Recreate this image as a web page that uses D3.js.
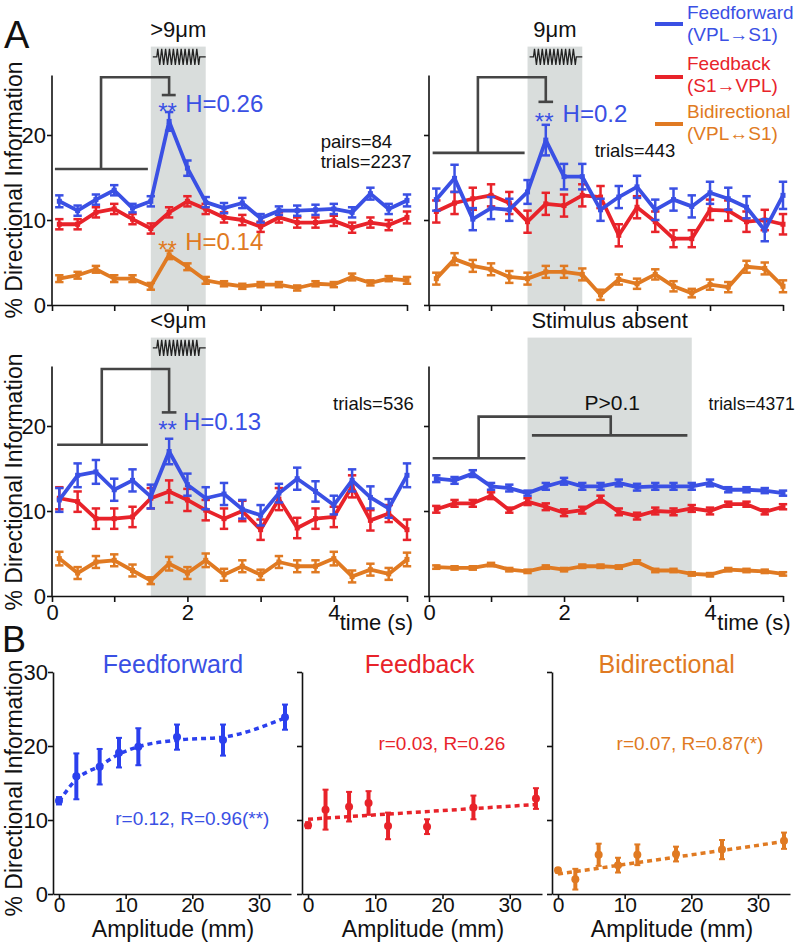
<!DOCTYPE html>
<html><head><meta charset="utf-8">
<script src="https://cdn.jsdelivr.net/npm/d3@7"></script>
<style>
body{margin:0;background:#fff}
svg{display:block}
text{font-family:"Liberation Sans",Arial,Helvetica,sans-serif}
</style>
</head><body>
<svg id="c" width="796" height="942"></svg>
<script>
// ---------- DATA ----------
const times = [0.25,0.5,0.75,1,1.25,1.5,1.75,2,2.25,2.5,2.75,3,3.25,3.5,3.75,4,4.25,4.5,4.75,5];
const xTickVals = [0.15,1,2,3,4,5];
const yTickVals = [0,10,20];

// >9um panel
const ffBig = [12.2,11.1,12.4,13.5,11.4,12.2,21.6,16.1,12.1,11.4,12.0,10.2,11.1,11.1,11.2,11.3,10.9,13.1,11.3,12.3];
const ffBigErr = [0.7,0.6,0.6,0.6,0.5,0.6,1.1,0.9,0.6,0.6,0.6,0.5,0.5,0.6,0.6,0.6,0.6,0.7,0.6,0.7];
const fbBig = [9.5,9.5,10.9,11.3,10.1,9.0,10.9,12.2,11.3,10.3,10.0,9.2,10.3,9.7,9.7,9.9,9.1,9.7,9.4,10.3];
const fbBigErr = [0.6,0.6,0.6,0.6,0.6,0.6,0.6,0.6,0.6,0.6,0.6,0.6,0.6,0.6,0.6,0.6,0.6,0.6,0.6,0.7];
const biBig = [3.1,3.5,4.2,3.1,3.1,2.2,5.9,4.5,2.9,2.5,2.2,2.4,2.4,2.0,2.5,2.4,3.3,2.6,3.1,2.9];
const biBigErr = [0.4,0.4,0.4,0.4,0.4,0.4,0.5,0.4,0.4,0.3,0.3,0.3,0.3,0.3,0.3,0.3,0.4,0.3,0.3,0.4];

// 9um panel
const ffMid = [12.4,14.9,10.1,11.4,11.2,13.3,19.4,15.1,15.1,11.2,12.7,13.9,11.2,12.4,11.6,13.2,12.5,11.5,8.8,12.9];
const ffMidErr = [1.3,1.6,1.3,1.3,1.3,1.4,1.8,1.5,1.5,1.3,1.3,1.3,1.2,1.3,1.3,1.3,1.3,1.3,1.3,1.6];
const fbMid = [11.0,12.0,12.5,12.9,12.0,9.8,11.9,11.7,12.9,12.7,8.2,11.5,9.8,7.8,7.8,11.2,11.1,9.8,10.0,9.5];
const fbMidErr = [1.3,1.3,1.3,1.3,1.3,1.3,1.3,1.3,1.3,1.3,1.3,1.3,1.2,1.0,1.0,1.2,1.2,1.2,1.2,1.2];
const biMid = [3.1,5.4,4.6,4.2,3.3,3.1,3.9,3.9,3.6,1.2,3.0,2.5,3.6,2.2,1.4,2.4,2.1,4.5,4.3,2.2];
const biMidErr = [0.7,0.7,0.7,0.7,0.7,0.7,0.7,0.7,0.7,0.6,0.6,0.6,0.6,0.6,0.5,0.6,0.6,0.7,0.7,0.7];

// <9um panel
const ffSmall = [11.3,14.2,14.6,12.5,13.6,11.7,17.0,13.1,11.5,12.0,10.2,9.5,12.1,13.8,12.3,10.7,13.6,11.6,10.3,14.2];
const ffSmallErr = [1.4,1.4,1.4,1.3,1.3,1.4,1.5,1.3,1.3,1.3,1.1,1.2,1.1,1.3,1.2,1.1,1.3,1.3,1.1,1.4];
const fbSmall = [11.5,11.1,9.1,9.1,9.3,11.5,12.3,11.3,10.1,9.1,10.0,7.8,11.4,8.0,9.1,9.3,12.9,8.9,9.7,7.8];
const fbSmallErr = [1.3,1.2,1.2,1.2,1.2,1.2,1.3,1.3,1.2,1.2,1.2,1.2,1.3,1.2,1.2,1.2,1.3,1.2,1.0,1.2];
const biSmall = [4.4,2.7,4.0,4.2,3.0,1.8,3.8,2.7,4.2,2.5,3.5,2.5,4.0,3.5,3.5,4.4,2.3,3.1,2.6,4.3];
const biSmallErr = [0.8,0.7,0.7,0.7,0.7,0.4,0.8,0.7,0.8,0.7,0.7,0.6,0.7,0.7,0.7,0.8,0.7,0.7,0.7,0.8];

// Stimulus absent panel
const ffNone = [13.8,13.6,14.4,12.9,12.7,12.1,12.9,13.5,12.9,12.9,13.3,12.8,12.9,12.9,12.9,13.3,12.5,12.5,12.4,12.1];
const ffNoneErr = [0.4,0.4,0.4,0.4,0.4,0.3,0.4,0.4,0.4,0.4,0.4,0.4,0.4,0.4,0.4,0.4,0.3,0.3,0.3,0.3];
const fbNone = [10.2,10.9,10.9,11.8,10.1,11.1,10.5,9.8,10.1,11.4,9.9,9.4,10.0,9.9,10.3,10.0,10.8,10.8,9.9,10.5];
const fbNoneErr = [0.4,0.4,0.4,0.4,0.3,0.4,0.4,0.4,0.4,0.4,0.4,0.4,0.4,0.4,0.4,0.4,0.3,0.3,0.3,0.3];
const biNone = [3.4,3.3,3.3,3.7,3.1,2.9,3.4,3.1,3.5,3.5,3.4,4.0,3.0,3.0,2.6,2.5,3.1,3.0,2.9,2.6];
const biNoneErr = [0.2,0.2,0.2,0.2,0.2,0.2,0.2,0.2,0.2,0.2,0.2,0.2,0.2,0.2,0.2,0.2,0.2,0.2,0.2,0.2];

// Part B
const amps = [0,2.6,6.1,9.0,11.9,17.7,24.6,33.9];
const ampTicks = [0,10,20,30];
const bYTicks = [0,10,20,30];
const ffAmp = [12.6,15.9,17.2,19.1,19.9,21.2,20.8,23.9];
const ffAmpErr = [0.5,3.1,2.4,2.0,2.5,1.7,2.1,1.7];
const ffAmpFit = [12.5,15.5,17.3,18.9,19.9,20.8,21.2,23.8];
const fbAmp = [9.3,11.4,11.8,12.3,9.2,9.1,11.7,12.9];
const fbAmpErr = [0.4,2.7,2.0,1.6,1.8,1.0,1.6,1.4];
const fbFitX = [0,34];
const fbFitY = [10.1,12.1];
const biAmp = [3.2,2.0,5.3,3.9,5.3,5.4,6.0,7.2];
const biAmpErr = [0.3,1.4,1.5,1.0,1.4,1.0,1.3,1.1];
const biFitX = [0,34];
const biFitY = [2.7,7.1];

// ---------- STYLE ----------
const BLUE = "#3a50e4", RED = "#e8232a", ORANGE = "#e07a22", BBLUE = "#2b40ee";
const DARK = "#454545", SHADE = "#d9dddc";

const svg = d3.select("#c");

const panelsA = [
  {xr:[52,407], yr:[305,75.5], ff:ffBig, ffE:ffBigErr, fb:fbBig, fbE:fbBigErr, bi:biBig, biE:biBigErr,
   shade:[1.5,2.25], title:">9\u03bcm", zig:true, yl:true, xl:false,
   br:{l0:0.19,l1:1.46,lv:16.0,vx:0.82,top:26.8,tx:1.75,end:24.7,cap:[1.65,1.84]},
   hs:[{t:1.60,v:22.7,tH:1.97,txt:"H=0.26",c:BLUE},{t:1.60,v:6.5,tH:1.97,txt:"H=0.14",c:ORANGE}],
   notes:[{t:3.82,v:18.5,txt:"pairs=84"},{t:3.82,v:16.1,txt:"trials=2237"}]},
  {xr:[429,783], yr:[305,75.5], ff:ffMid, ffE:ffMidErr, fb:fbMid, fbE:fbMidErr, bi:biMid, biE:biMidErr,
   shade:[1.5,2.25], title:"9\u03bcm", zig:true, yl:false, xl:false,
   br:{l0:0.2,l1:1.46,lv:17.9,vx:0.82,top:26.8,tx:1.75,end:23.9,cap:[1.65,1.85]},
   hs:[{t:1.60,v:21.5,tH:1.98,txt:"H=0.2",c:BLUE}],
   notes:[{t:2.42,v:17.4,txt:"trials=443"}]},
  {xr:[52,407], yr:[596,366.5], ff:ffSmall, ffE:ffSmallErr, fb:fbSmall, fbE:fbSmallErr, bi:biSmall, biE:biSmallErr,
   shade:[1.5,2.25], title:"<9\u03bcm", zig:true, yl:true, xl:true,
   br:{l0:0.22,l1:1.46,lv:17.8,vx:0.83,top:26.7,tx:1.75,end:21.6,cap:[1.65,1.85]},
   hs:[{t:1.60,v:19.5,tH:1.94,txt:"H=0.13",c:BLUE}],
   notes:[{t:3.99,v:21.9,txt:"trials=536"}]},
  {xr:[429,783], yr:[596,366.5], ff:ffNone, ffE:ffNoneErr, fb:fbNone, fbE:fbNoneErr, bi:biNone, biE:biNoneErr,
   shade:[1.5,3.75], title:"Stimulus absent", zig:false, yl:false, xl:true,
   br2:{l0:0.2,l1:1.47,lv:16.2,vx:0.83,top:21.1,tx:2.64,end:18.9,r0:1.56,r1:3.69},
   hs:[], notes:[{t:3.98,v:21.9,txt:"trials=4371",fs:17.5},{t:2.66,v:21.9,txt:"P>0.1",anchor:"middle",fs:21}]}
];

function drawSeries(g, x, y, xs, vals, errs, color, lw, ew, cw, msize){
  const line = d3.line().x((d,i)=>x(xs[i])).y(d=>y(d));
  g.append("path").datum(vals).attr("d", line).attr("fill","none")
    .attr("stroke", color).attr("stroke-width", lw).attr("stroke-linejoin","round");
  const eb = g.append("g").attr("stroke", color).attr("stroke-width", ew);
  vals.forEach((v,i)=>{
    const px = x(xs[i]);
    eb.append("line").attr("x1",px).attr("x2",px).attr("y1",y(v-errs[i])).attr("y2",y(v+errs[i]));
    eb.append("line").attr("x1",px-cw).attr("x2",px+cw).attr("y1",y(v-errs[i])).attr("y2",y(v-errs[i]));
    eb.append("line").attr("x1",px-cw).attr("x2",px+cw).attr("y1",y(v+errs[i])).attr("y2",y(v+errs[i]));
  });
  if (msize) g.append("g").selectAll("rect").data(vals).join("rect")
    .attr("x",(d,i)=>x(xs[i])-msize/2).attr("y",d=>y(d)-msize/2)
    .attr("width",msize).attr("height",msize).attr("fill",color);
}

panelsA.forEach(p=>{
  const g = svg.append("g");
  const x = d3.scaleLinear().domain([0.15,5]).range(p.xr);
  const y = d3.scaleLinear().domain([0,27]).range(p.yr);
  // shading
  g.append("rect").attr("x", x(p.shade[0])).attr("width", x(p.shade[1])-x(p.shade[0]))
    .attr("y", y(30.4)).attr("height", y(0)-y(30.4)).attr("fill", SHADE);
  // title
  g.append("text").attr("x", (x(p.shade[0])+x(p.shade[1]))/2).attr("y", y(27)-39)
    .attr("text-anchor","middle").attr("font-size",22).attr("fill","#111").text(p.title);
  // zigzag stimulus
  if (p.zig){
    const xs = x(p.shade[0])+2, xe = x(p.shade[1]), yc = y(29.2), amp = 8, n = 11;
    const pts = [[xs,yc],[xs+4,yc]];
    const a = xs+4, b = xe-6, step = (b-a)/(2*n);
    for (let k=0;k<2*n;k++) pts.push([a+step*(k+0.5), k%2===0 ? yc-amp : yc+amp]);
    pts.push([b,yc],[xe,yc]);
    g.append("path").attr("d", d3.line()(pts)).attr("fill","none").attr("stroke","#222").attr("stroke-width",1.3);
  }
  // axes
  const ax = d3.axisLeft(y).tickValues(yTickVals).tickSize(5).tickSizeOuter(0).tickPadding(1)
    .tickFormat(p.yl ? d3.format("d") : ()=>"");
  const gy = g.append("g").attr("transform",`translate(${p.xr[0]},0)`).call(ax);
  const bx = d3.axisBottom(x).tickValues(xTickVals).tickSize(6).tickSizeOuter(0).tickPadding(2)
    .tickFormat(d=> p.xl ? (d===0.15?"0":(d===2||d===4?String(d):"")) : "");
  const gx = g.append("g").attr("transform",`translate(0,${p.yr[0]})`).call(bx);
  [gy,gx].forEach(a=>{
    a.selectAll("path,line").attr("stroke","#111").attr("stroke-width",1.6);
    a.selectAll("text").attr("font-size",22).attr("fill","#111").attr("font-family",'"Liberation Sans",Arial,sans-serif');
  });
  gy.select(".domain").attr("d", `M0,${y(0)}V${y(27)}`);
  if (p.xl){
    g.append("text").attr("x", x(p.xr[0]===52?4.08:4.10)).attr("y", p.yr[0]+34)
      .attr("font-size",22).attr("fill","#111").text("time (s)");
  }
  // bracket
  const bg = g.append("g").attr("stroke", DARK).attr("stroke-width",2.6).attr("fill","none");
  if (p.br){
    const b = p.br;
    bg.append("line").attr("x1",x(b.l0)).attr("x2",x(b.l1)).attr("y1",y(b.lv)).attr("y2",y(b.lv));
    bg.append("path").attr("d", `M${x(b.vx)},${y(b.lv)}V${y(b.top)}H${x(b.tx)}V${y(b.end)}`);
    bg.append("line").attr("x1",x(b.cap[0])).attr("x2",x(b.cap[1])).attr("y1",y(b.end)).attr("y2",y(b.end));
  }
  if (p.br2){
    const b = p.br2;
    bg.append("line").attr("x1",x(b.l0)).attr("x2",x(b.l1)).attr("y1",y(b.lv)).attr("y2",y(b.lv));
    bg.append("path").attr("d", `M${x(b.vx)},${y(b.lv)}V${y(b.top)}H${x(b.tx)}V${y(b.end)}`);
    bg.append("line").attr("x1",x(b.r0)).attr("x2",x(b.r1)).attr("y1",y(b.end)).attr("y2",y(b.end));
  }
  // series
  drawSeries(g, x, y, times, p.bi, p.biE, ORANGE, 3.8, 2.5, 4.2, 5);
  drawSeries(g, x, y, times, p.fb, p.fbE, RED, 3.8, 2.5, 4.2, 5);
  drawSeries(g, x, y, times, p.ff, p.ffE, BLUE, 3.8, 2.5, 4.2, 5);
  // H annotations
  p.hs.forEach(h=>{
    g.append("text").attr("x", x(h.t)).attr("y", y(h.v)+8).attr("font-size",24).attr("fill",h.c).text("**");
    g.append("text").attr("x", x(h.tH)).attr("y", y(h.v)).attr("font-size",24).attr("fill",h.c).text(h.txt);
  });
  p.notes.forEach(n=>{
    g.append("text").attr("x", x(n.t)).attr("y", y(n.v)).attr("font-size", n.fs||18.5)
      .attr("text-anchor", n.anchor||"start").attr("fill","#111").text(n.txt);
  });
});

// panel letters
svg.append("text").attr("x",4).attr("y",48).attr("font-size",38).attr("fill","#111").text("A");
svg.append("text").attr("x",2).attr("y",652).attr("font-size",36).attr("fill","#111").text("B");

// y labels
[[190,22],[482,22],[788,22]].forEach(([cy,bx])=>{
  svg.append("text").attr("transform",`translate(${bx},${cy}) rotate(-90)`).attr("text-anchor","middle")
    .attr("font-size",23).attr("fill","#111").text("% Directional Information");
});

// legend
const legend = [
  {c:BLUE, l1:"Feedforward", l2:"(VPL\u2192S1)", ly:24, b1:19, b2:41},
  {c:RED, l1:"Feedback", l2:"(S1\u2192VPL)", ly:77, b1:70, b2:92},
  {c:ORANGE, l1:"Bidirectional", l2:"(VPL\u2194S1)", ly:124, b1:118, b2:140}
];
legend.forEach(L=>{
  svg.append("line").attr("x1",655).attr("x2",683).attr("y1",L.ly).attr("y2",L.ly)
    .attr("stroke",L.c).attr("stroke-width",4);
  svg.append("text").attr("x",687).attr("y",L.b1).attr("font-size",19).attr("fill",L.c).text(L.l1);
  svg.append("text").attr("x",687).attr("y",L.b2).attr("font-size",19).attr("fill",L.c).text(L.l2);
});

// ---------- PART B ----------
const panelsB = [
  {xr:[53,291], c:BBLUE, tc:BLUE, title:"Feedforward", tx:17.1, vals:ffAmp, errs:ffAmpErr, fitX:amps, fitY:ffAmpFit, curve:true,
   note:"r=0.12, R=0.96(**)", nx:20, nv:9.3, yl:true},
  {xr:[302,542], c:RED, tc:RED, title:"Feedback", tx:16.6, vals:fbAmp, errs:fbAmpErr, fitX:fbFitX, fitY:fbFitY, curve:false,
   note:"r=0.03, R=0.26", nx:19.9, nv:19.5, yl:false},
  {xr:[552,790], c:ORANGE, tc:ORANGE, title:"Bidirectional", tx:16.3, vals:biAmp, errs:biAmpErr, fitX:biFitX, fitY:biFitY, curve:false,
   note:"r=0.07, R=0.87(*)", nx:19.8, nv:19.5, yl:false}
];
panelsB.forEach(p=>{
  const g = svg.append("g");
  const x = d3.scaleLinear().domain([-0.9,34.8]).range(p.xr);
  const y = d3.scaleLinear().domain([0,30]).range([894,672]);
  const ay = d3.axisLeft(y).tickValues(bYTicks).tickSize(5).tickSizeOuter(0).tickPadding(0)
    .tickFormat(p.yl ? d3.format("d") : ()=>"");
  const gy = g.append("g").attr("transform",`translate(${p.xr[0]},0)`).call(ay);
  const axb = d3.axisBottom(x).tickValues(ampTicks).tickSize(5).tickSizeOuter(0).tickPadding(-2);
  const gx = g.append("g").attr("transform",`translate(0,894)`).call(axb);
  [gy,gx].forEach(a=>{
    a.selectAll("path,line").attr("stroke","#111").attr("stroke-width",1.6);
    a.selectAll("text").attr("font-size",21).attr("fill","#111").attr("font-family",'"Liberation Sans",Arial,sans-serif');
  });
  gy.selectAll("text").attr("font-size",22);
  g.append("text").attr("x", (p.xr[0]+p.xr[1])/2+1).attr("y",937).attr("text-anchor","middle")
    .attr("font-size",23).attr("fill","#111").text("Amplitude (mm)");
  g.append("text").attr("x", x(p.tx)).attr("y", y(29.9)).attr("text-anchor","middle")
    .attr("font-size",25).attr("fill",p.tc).text(p.title);
  g.append("text").attr("x", x(p.nx)).attr("y", y(p.nv)).attr("text-anchor","middle")
    .attr("font-size",19).attr("fill",p.tc).text(p.note);
  // fit
  const fl = d3.line().x((d,i)=>x(p.fitX[i])).y(d=>y(d));
  if (p.curve) fl.curve(d3.curveMonotoneX);
  g.append("path").datum(p.fitY).attr("d", fl).attr("fill","none").attr("stroke",p.c)
    .attr("stroke-width",3.5).attr("stroke-dasharray","5,4");
  // error bars + points
  const eb = g.append("g").attr("stroke",p.c).attr("stroke-width",4);
  p.vals.forEach((v,i)=>{
    const px = x(amps[i]);
    eb.append("line").attr("x1",px).attr("x2",px).attr("y1",y(v-p.errs[i])).attr("y2",y(v+p.errs[i]));
    eb.append("line").attr("x1",px-3).attr("x2",px+3).attr("y1",y(v-p.errs[i])).attr("y2",y(v-p.errs[i])).attr("stroke-width",2);
    eb.append("line").attr("x1",px-3).attr("x2",px+3).attr("y1",y(v+p.errs[i])).attr("y2",y(v+p.errs[i])).attr("stroke-width",2);
  });
  g.append("g").selectAll("circle").data(p.vals).join("circle")
    .attr("cx",(d,i)=>x(amps[i])).attr("cy",d=>y(d)).attr("r",4).attr("fill",p.c);
});
</script>
</body></html>
